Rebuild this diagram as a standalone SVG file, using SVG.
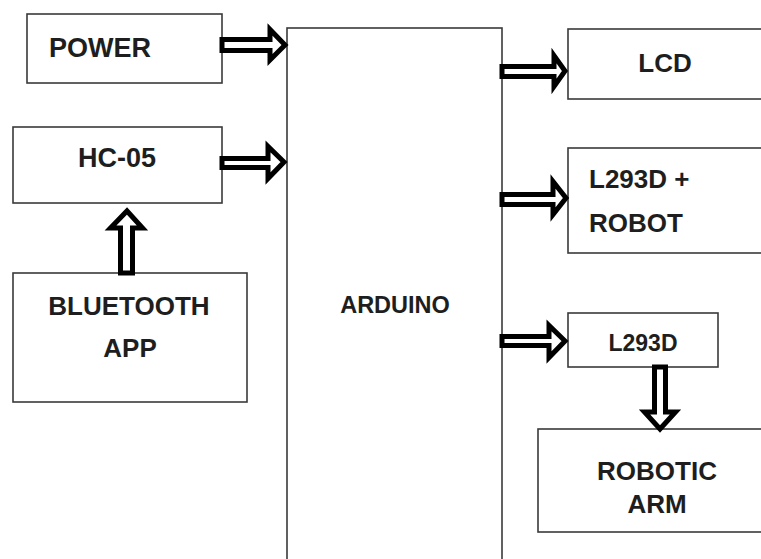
<svg xmlns="http://www.w3.org/2000/svg" width="761" height="559" viewBox="0 0 761 559">
  <style>
    .box { fill: #ffffff; stroke: #3a3a3a; stroke-width: 1.6; }
    .arrow { fill: #ffffff; stroke: #000000; stroke-width: 5; stroke-linejoin: miter; stroke-miterlimit: 10; }
    .lbl { font-family: "Liberation Sans", Arial, sans-serif; font-weight: bold; fill: #1e1e1e; }
    .c { text-anchor: middle; }
  </style>
  <rect width="761" height="559" fill="#ffffff"/>

  <g id="power">
    <rect class="box" x="27" y="14" width="195" height="69"/>
    <text class="lbl c" x="100" y="57" font-size="27">POWER</text>
  </g>
  <g id="hc05">
    <rect class="box" x="13" y="127" width="209" height="76"/>
    <text class="lbl c" x="117" y="167" font-size="27">HC-05</text>
  </g>
  <g id="bluetooth-app">
    <rect class="box" x="13" y="273" width="234" height="129"/>
    <text class="lbl c" x="129" y="315" font-size="26">BLUETOOTH</text>
    <text class="lbl c" x="130" y="357" font-size="26">APP</text>
  </g>
  <g id="arduino">
    <rect class="box" x="287" y="28" width="215" height="560"/>
    <text class="lbl c" x="395" y="313" font-size="23.5">ARDUINO</text>
  </g>
  <g id="lcd">
    <rect class="box" x="568" y="29" width="210" height="70"/>
    <text class="lbl c" x="665" y="72" font-size="26">LCD</text>
  </g>
  <g id="l293d-robot">
    <rect class="box" x="568" y="148" width="210" height="105"/>
    <text class="lbl" x="589" y="188" font-size="26">L293D +</text>
    <text class="lbl" x="589" y="232" font-size="26">ROBOT</text>
  </g>
  <g id="l293d">
    <rect class="box" x="568" y="313" width="150" height="54"/>
    <text class="lbl c" x="643" y="351" font-size="23">L293D</text>
  </g>
  <g id="robotic-arm">
    <rect class="box" x="538" y="429" width="240" height="103"/>
    <text class="lbl c" x="657" y="480" font-size="26">ROBOTIC</text>
    <text class="lbl c" x="657" y="513" font-size="26">ARM</text>
  </g>

  <g id="connectors">
    <polygon class="arrow" points="222,39.5 270,39.5 270,29.5 285,45 270,60 270,50.5 222,50.5"/>
    <polygon class="arrow" points="222,158.5 268,158.5 268,146.5 284,162 268,178.5 268,167.5 222,167.5"/>
    <polygon class="arrow" points="120.5,273 120.5,228 110.5,228 127,211 142.5,228 132.5,228 132.5,273"/>
    <polygon class="arrow" points="502,66.5 554,66.5 554,55.5 565,71 554,86.5 554,76.5 502,76.5"/>
    <polygon class="arrow" points="502,194.5 553,194.5 553,181.5 566,198 553,214.5 553,204.5 502,204.5"/>
    <polygon class="arrow" points="502,336.5 549,336.5 549,325.5 565,341 549,357.5 549,345.5 502,345.5"/>
    <polygon class="arrow" points="654.5,367 654.5,412 644.5,412 660,429 675.5,412 665.5,412 665.5,367"/>
  </g>
</svg>
